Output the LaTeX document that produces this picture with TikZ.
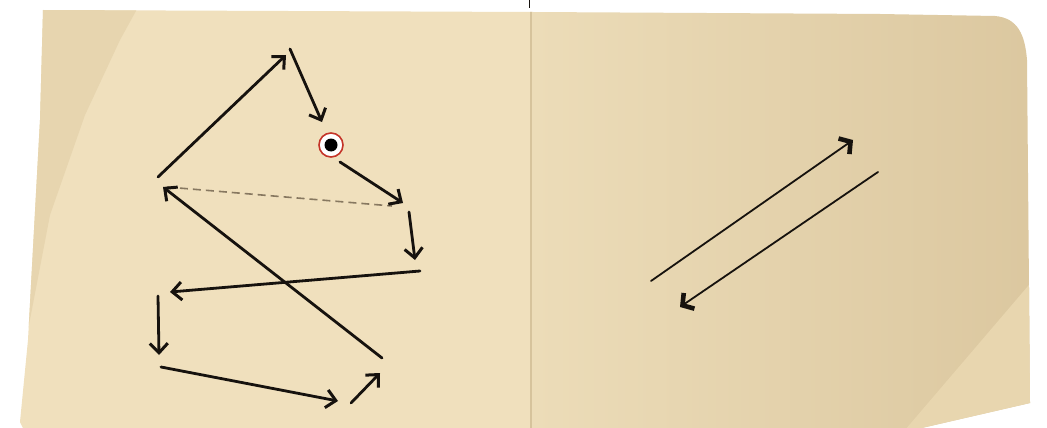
\documentclass[tikz,border=0pt]{standalone}
\usetikzlibrary{arrows.meta}
\definecolor{leftpage}{RGB}{240,224,189}
\definecolor{leftshade}{RGB}{231,213,175}
\definecolor{rightA}{RGB}{236,220,184}
\definecolor{rightB}{RGB}{219,199,159}
\definecolor{rightlight}{RGB}{232,214,175}
\definecolor{gutter}{RGB}{214,195,156}
\definecolor{ink}{RGB}{22,18,14}
\definecolor{dashcol}{RGB}{135,120,96}
\definecolor{ringred}{RGB}{196,52,40}
\begin{document}
\begin{tikzpicture}[x=1pt,y=-1pt,
  arr/.style={ink, line width=2.8pt, line cap=round,
    -{Straight Barb[length=9.5pt,width=18pt,line width=3pt]}},
  thinarr/.style={ink, line width=1.8pt, line cap=round,
    -{Straight Barb[length=8pt,width=19pt,line width=4.6pt]}},
  dashline/.style={dashcol, line width=1.6pt, dash pattern=on 8pt off 5pt}]
\useasboundingbox (0,0) rectangle (1047,428);
\fill[white] (0,0) rectangle (1047,428);
% paper
\begin{scope}
\clip (43,10) -- (533,12) -- (880,14) -- (995,16)
  .. controls (1018,18) and (1025,35) .. (1027,60)
  -- (1030,403) -- (913,430) -- (24,430) -- (20,422) -- (28,340) -- (40,120) -- cycle;
\fill[leftpage] (0,0) rectangle (532,430);
\fill[leftshade] (20,0) -- (142,0) -- (120,40) -- (85,115) -- (50,215) -- (28,330) -- (15,330) -- cycle;
\shade[left color=rightA, right color=rightB] (532,0) rectangle (1047,430);
\fill[rightlight] (1040,272) -- (1040,430) -- (905,430) -- cycle;
\draw[gutter, line width=1.2pt] (531,0) -- (531,430);
\end{scope}
\draw[ink, line width=1pt] (529,0) -- (529,8);
% coordinates
\coordinate (a1s) at (158,177); \coordinate (a1e) at (286,55);
\coordinate (a2s) at (290,49);  \coordinate (a2e) at (322,122);
\coordinate (a3s) at (340,162); \coordinate (a3e) at (403,203);
\coordinate (ds) at (167,187);  \coordinate (de) at (392,206);
\coordinate (a4s) at (409,212); \coordinate (a4e) at (415,260);
\coordinate (a5s) at (420,271); \coordinate (a5e) at (170,292);
\coordinate (ls) at (382,358);  \coordinate (le) at (163,187);
\coordinate (a6s) at (158,296); \coordinate (a6e) at (159,355);
\coordinate (a7s) at (161,367); \coordinate (a7e) at (338,401);
\coordinate (a8s) at (351,403); \coordinate (a8e) at (380,373);
\coordinate (r1s) at (651,281); \coordinate (r1e) at (853,140);
\coordinate (r2s) at (878,172); \coordinate (r2e) at (680,307);
% target
\node[circle, draw=ringred, line width=1.6pt, fill=white, minimum size=24pt, inner sep=0pt] (tgt) at (331,145) {};
\node[circle, fill=black, minimum size=13pt, inner sep=0pt] (dot) at (tgt) {};
% arrows left
\draw[dashline] (ds) -- (de);
\draw[arr] (a1s) -- (a1e);
\draw[arr] (a2s) -- (a2e);
\draw[arr] (a3s) -- (a3e);
\draw[arr] (a4s) -- (a4e);
\draw[arr] (a5s) -- (a5e);
\draw[arr] (ls) -- (le);
\draw[arr] (a6s) -- (a6e);
\draw[arr] (a7s) -- (a7e);
\draw[arr] (a8s) -- (a8e);
% arrows right
\draw[thinarr] (r1s) -- (r1e);
\draw[thinarr] (r2s) -- (r2e);
\end{tikzpicture}
\end{document}
